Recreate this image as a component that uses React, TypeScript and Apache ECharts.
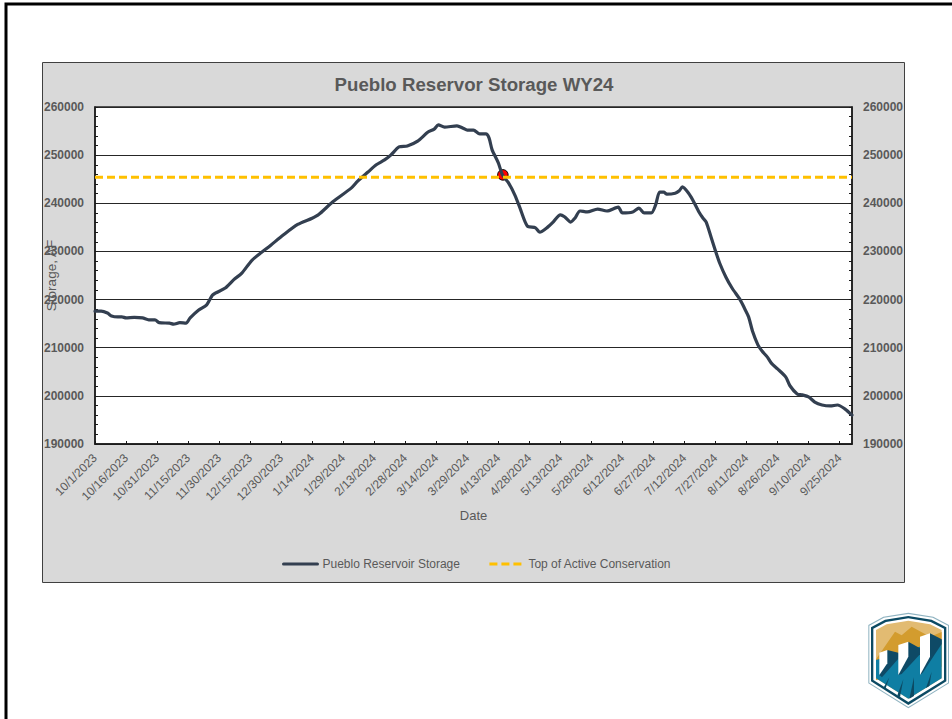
import React, { useEffect, useRef } from "react";
import * as echarts from "echarts";

const xTickLabels = ["10/1/2023","10/16/2023","10/31/2023","11/15/2023","11/30/2023","12/15/2023","12/30/2023","1/14/2024","1/29/2024","2/13/2024","2/28/2024","3/14/2024","3/29/2024","4/13/2024","4/28/2024","5/13/2024","5/28/2024","6/12/2024","6/27/2024","7/12/2024","7/27/2024","8/11/2024","8/26/2024","9/10/2024","9/25/2024"];
const storageDays = [0,3,6,8,11,13,15,19,23,26,29,31,36,38,41,44,46,50,54,57,63,67,71,76,85,91,98,105,108,115,124,127,132,136,140,143,147,151,156,161,164,166,169,175,178,180,183,186,189,190.5,192,195,197,200,203,205.5,209,213,215,219,221.5,225,227,230,232,234.5,238,243,247.5,253,255,260,263,265.5,269,271,273,275,276.5,280.5,282.5,284,287,289,292,294,295.5,298,300,302,305,308,312,314,316,318,320.5,322.5,325,327,330,334,336,339.5,342,345,348,351.5,355.5,359,362.5,366];
const storageValues = [217600,217600,217200,216600,216400,216400,216200,216300,216200,215800,215800,215200,215100,214900,215200,215100,216200,217800,218900,221000,222400,224100,225500,228200,231300,233400,235600,236900,237600,240300,243200,244600,246500,248000,249000,250000,251700,251900,252900,254800,255400,256300,255800,256100,255600,255200,255200,254400,254400,253600,251100,248400,245900,244200,241700,239000,235300,234900,234000,235100,236100,237600,237200,236100,236900,238400,238200,238800,238400,239200,238000,238200,239000,238000,238000,239600,242300,242300,241900,242100,242600,243400,242100,240700,238200,236900,236100,232800,230100,227600,224700,222400,219900,218200,216400,213300,210600,209300,208100,206800,205600,203900,202100,200400,200200,199800,198700,198100,197900,198100,197300,196000];
const conservationDays = [0, 366];
const conservationValues = [245400, 245400];
const markerDay = [197.2];
const markerValue = [245900];

const GREY = "#595959";
const FONT = "'Liberation Sans', Arial, sans-serif";

const lg = (pts: number[][]) => pts.map(([x, y]) => [850 + x / 3, 600 + y / 3]);
const poly = (pts: number[][], fill: string, z = 20) => ({
  type: "polygon", z, silent: true, shape: { points: lg(pts) }, style: { fill },
});

const logo = [
  poly([[55,75],[100,50],[175,38],[250,50],[297,75],[297,250],[175,325],[55,250]], "#8fb3c1", 20),
  poly([[58,77],[102,53],[175,42],[248,53],[294,77],[294,248],[175,321],[58,248]], "#ffffff", 20),
  poly([[63,82],[105,59],[175,48],[245,59],[289,82],[289,244],[175,315],[63,244]], "#0c4a63", 21),
  poly([[70,86],[108,66],[175,55],[242,66],[282,86],[282,240],[175,306],[70,240]], "#ffffff", 22),
  poly([[78,90],[110,73],[175,62],[240,73],[275,90],[275,235],[175,296],[78,235]], "#e2bb72", 23),
  poly([[78,178],[135,95],[155,106],[185,80],[240,110],[275,96],[275,200],[78,240]], "#d39c2e", 24),
  poly([[78,235],[78,180],[112,170],[275,120],[275,235],[175,296]], "#0f7ea3", 25),
  poly([[112,150],[145,158],[145,176],[96,232],[88,225]], "#0e4a66", 26),
  poly([[175,125],[210,145],[210,163],[155,222],[145,225]], "#0e4a66", 26),
  poly([[240,100],[275,118],[275,132],[218,218],[210,225]], "#0e4a66", 26),
  poly([[88,158],[112,150],[112,190],[88,225]], "#ffffff", 27),
  poly([[145,135],[175,125],[175,170],[145,225]], "#ffffff", 27),
  poly([[210,110],[240,100],[240,170],[210,225]], "#ffffff", 27),
  poly([[100,264],[118,232],[106,268]], "#0c4a63", 28),
  poly([[142,286],[160,238],[150,292]], "#0c4a63", 28),
  poly([[178,296],[192,232],[192,288]], "#0c4a63", 28),
  poly([[228,264],[245,215],[238,258]], "#0c4a63", 28),
];

export default function App() {
  const ref = useRef<HTMLDivElement>(null);
  useEffect(() => {
    const chart = echarts.init(ref.current!, null, { renderer: "svg" });
    const yLabel = { color: GREY, fontFamily: FONT, fontSize: 12, fontWeight: "bold" as const, margin: 11, formatter: (v: number) => String(v) };
    const axisLine = { show: true, lineStyle: { color: "#1a1a1a", width: 1.5 } };
    const tick = { show: true, inside: true, length: 3, lineStyle: { color: "#1a1a1a", width: 1 } };
    const minor = { show: true, splitNumber: 5, length: 3, lineStyle: { color: "#1a1a1a", width: 1 } };
    chart.setOption({
      animation: false,
      backgroundColor: "#ffffff",
      textStyle: { fontFamily: FONT },
      title: {
        text: "Pueblo Reservor Storage WY24",
        left: 469, top: 70, textAlign: "center",
        textStyle: { color: GREY, fontFamily: FONT, fontSize: 18.67, fontWeight: "bold" },
      },
      grid: { left: 95, right: 100, top: 107, bottom: 275, show: true, backgroundColor: "#ffffff", borderColor: "#262626", borderWidth: 1.5 },
      legend: {
        left: 277, top: 553, itemWidth: 34, itemHeight: 14, itemGap: 28,
        data: ["Pueblo Reservoir Storage", "Top of Active Conservation"],
        itemStyle: { opacity: 0 },
        lineStyle: { width: 3 },
        textStyle: { color: GREY, fontFamily: FONT, fontSize: 12 },
      },
      xAxis: {
        type: "value", min: 0, max: 366, interval: 15, splitLine: { show: false },
        name: "Date", nameLocation: "middle", nameGap: 65, nameMoveOverlap: false,
        nameTextStyle: { color: GREY, fontFamily: FONT, fontSize: 13 },
        axisLine, axisTick: tick,
        axisLabel: {
          rotate: 45, color: GREY, fontFamily: FONT, fontSize: 12, margin: 12, showMaxLabel: false, hideOverlap: false,
          formatter: (v: number) => xTickLabels[v / 15] ?? "",
        },
      },
      yAxis: [
        {
          type: "value", min: 190000, max: 260000, interval: 10000,
          name: "Storage, AF", nameLocation: "middle", nameGap: 37, nameMoveOverlap: false,
          nameTextStyle: { color: GREY, fontFamily: FONT, fontSize: 13.5 },
          axisLine, axisTick: tick, minorTick: minor, axisLabel: yLabel,
          splitLine: { show: true, lineStyle: { color: "#262626", width: 1 } },
        },
        {
          type: "value", position: "right", min: 190000, max: 260000, interval: 10000,
          axisLine, axisTick: tick, minorTick: minor, axisLabel: yLabel, splitLine: { show: false },
        },
      ],
      series: [
        {
          name: "Pueblo Reservoir Storage", type: "line", symbol: "none", smooth: 0.25,
          data: storageDays.map((d, i) => [d, storageValues[i]]),
          lineStyle: { color: "#333f50", width: 3.2, join: "round", cap: "round" },
          itemStyle: { color: "#333f50" },
        },
        {
          name: "Top of Active Conservation", type: "line", symbol: "none",
          data: conservationDays.map((d, i) => [d, conservationValues[i]]),
          lineStyle: { color: "#ffc000", width: 3, type: [8, 4] },
          itemStyle: { color: "#ffc000" },
        },
        {
          name: "Marker", type: "scatter", symbol: "circle", symbolSize: 10.5,
          data: markerDay.map((d, i) => [d, markerValue[i]]),
          itemStyle: { color: "#ff0000", borderColor: "#000000", borderWidth: 1, opacity: 1 },
        },
      ],
      graphic: [
        { type: "polyline", z: -2, silent: true, shape: { points: [[6, 719], [6, 4], [952, 4]] }, style: { stroke: "#000000", lineWidth: 3, fill: "none" } },
        { type: "rect", z: -1, silent: true, shape: { x: 42.5, y: 62.5, width: 862, height: 520 }, style: { fill: "#d9d9d9", stroke: "#404040", lineWidth: 1 } },
        ...logo,
      ],
    });
    return () => chart.dispose();
  }, []);
  return <div ref={ref} style={{ position: "absolute", left: 0, top: 0, width: 952, height: 719 }} />;
}
